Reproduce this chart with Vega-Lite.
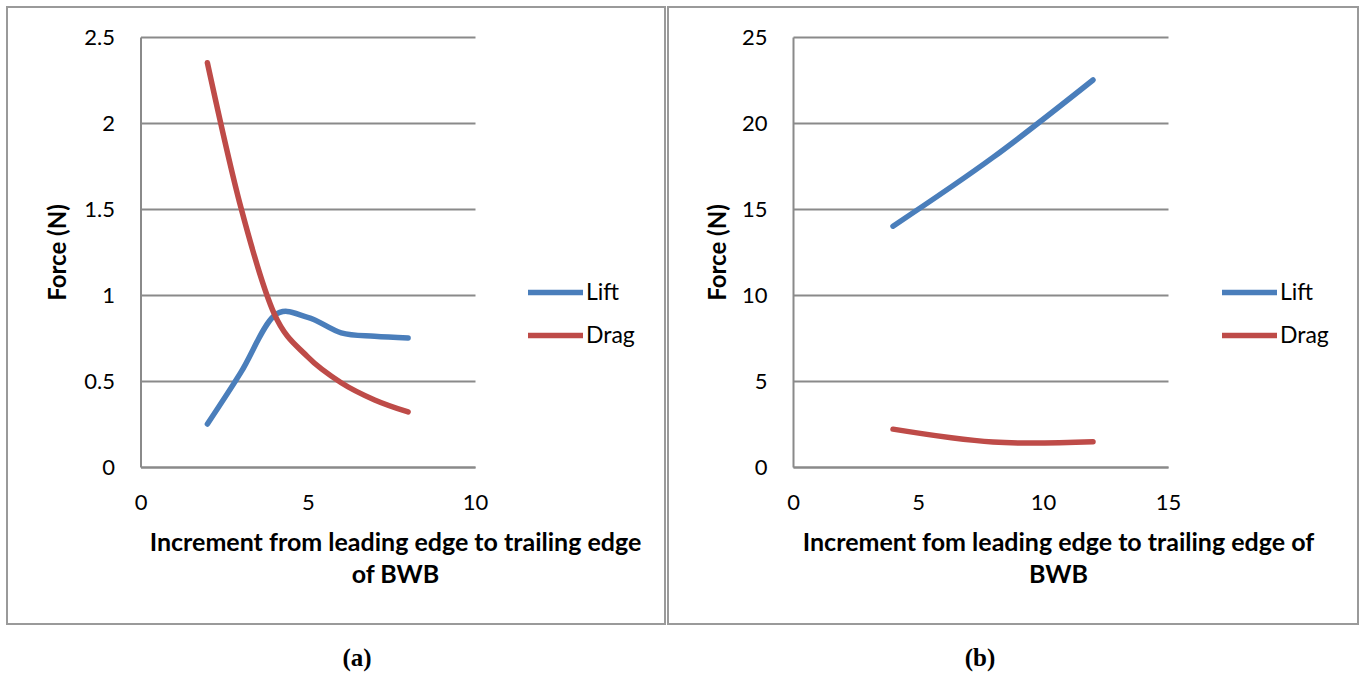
{
  "$schema": "https://vega.github.io/schema/vega-lite/v6.json",
  "padding": {"left": 6, "top": 6, "right": 0, "bottom": 0},
  "background": "white",
  "spacing": 1,
  "resolve": {"scale": {"color": "independent"}, "legend": {"color": "independent"}},
  "datasets": {
    "panelA": [
      {"increment": 2, "series": "Lift", "force": 0.25},
      {"increment": 3, "series": "Lift", "force": 0.55},
      {"increment": 4, "series": "Lift", "force": 0.88},
      {"increment": 5, "series": "Lift", "force": 0.87},
      {"increment": 6, "series": "Lift", "force": 0.78},
      {"increment": 7, "series": "Lift", "force": 0.76},
      {"increment": 8, "series": "Lift", "force": 0.75},
      {"increment": 2, "series": "Drag", "force": 2.35},
      {"increment": 3, "series": "Drag", "force": 1.51},
      {"increment": 4, "series": "Drag", "force": 0.89},
      {"increment": 5, "series": "Drag", "force": 0.64},
      {"increment": 6, "series": "Drag", "force": 0.49},
      {"increment": 7, "series": "Drag", "force": 0.39},
      {"increment": 8, "series": "Drag", "force": 0.32}
    ],
    "panelB": [
      {"increment": 4, "series": "Lift", "force": 14.0},
      {"increment": 8, "series": "Lift", "force": 18.0},
      {"increment": 12, "series": "Lift", "force": 22.5},
      {"increment": 4, "series": "Drag", "force": 2.2},
      {"increment": 8, "series": "Drag", "force": 1.45},
      {"increment": 12, "series": "Drag", "force": 1.47}
    ]
  },
  "config": {
    "view": {"stroke": "#9a9a9a", "strokeWidth": 2},
    "font": "Lato",
    "axis": {
      "domainColor": "#8a8a8a", "domainWidth": 2,
      "gridColor": "#8a8a8a", "gridWidth": 2,
      "ticks": false, "tickSize": 0, "labelFlush": false, "labelOverlap": false,
      "labelFont": "Lato", "labelFontSize": 22, "labelColor": "#000000",
      "titleFont": "Lato", "titleFontWeight": "bold", "titleFontSize": 24, "titleColor": "#000000"
    },
    "legend": {
      "orient": "none", "title": null, "symbolType": "stroke", "symbolSize": 3025,
      "symbolStrokeWidth": 5.5, "labelFont": "Lato", "labelFontSize": 23, "labelColor": "#000000",
      "labelOffset": 0, "rowPadding": -1, "padding": 0
    },
    "title": {"font": "Liberation Serif", "fontSize": 25, "fontWeight": "bold", "color": "#000000"}
  },
  "hconcat": [
    {
      "width": 658, "height": 617,
      "data": {"name": "panelA"},
      "title": {"text": "(a)", "orient": "bottom", "offset": 22, "dx": 21},
      "mark": {"type": "line", "interpolate": "cardinal", "strokeWidth": 5.5, "strokeCap": "round"},
      "encoding": {
        "x": {
          "field": "increment", "type": "quantitative",
          "scale": {"domain": [0, 10], "range": [133.5, 468], "nice": false, "zero": false},
          "axis": {"values": [0, 5, 10], "offset": -157, "labelPadding": 25, "grid": false,
            "title": ["Increment from leading edge to trailing edge", "of BWB"], "titleFontSize": 25,
            "titleX": 388, "titleY": 63, "titleLineHeight": 32, "titleAnchor": "middle", "titleAlign": "center"}
        },
        "y": {
          "field": "force", "type": "quantitative",
          "scale": {"domain": [0, 2.5], "range": [460, 30], "nice": false},
          "axis": {"values": [0, 0.5, 1, 1.5, 2, 2.5], "format": ".1~f", "offset": -133.5, "labelPadding": 26, "grid": true,
            "title": "Force (N)", "titleX": -70.5, "titleY": 245}
        },
        "color": {
          "field": "series", "type": "nominal",
          "scale": {"domain": ["Lift", "Drag"], "range": ["#4A7EBB", "#BE4B48"]},
          "legend": {"legendX": 518, "legendY": 255}
        }
      }
    },
    {
      "width": 690, "height": 617,
      "data": {"name": "panelB"},
      "title": {"text": "(b)", "orient": "bottom", "offset": 22, "dx": -33},
      "mark": {"type": "line", "interpolate": "cardinal", "strokeWidth": 5.5, "strokeCap": "round"},
      "encoding": {
        "x": {
          "field": "increment", "type": "quantitative",
          "scale": {"domain": [0, 15], "range": [125, 500], "nice": false, "zero": false},
          "axis": {"values": [0, 5, 10, 15], "offset": -157, "labelPadding": 25, "grid": false,
            "title": ["Increment fom leading edge to trailing edge of", "BWB"], "titleFontSize": 25,
            "titleX": 390, "titleY": 63, "titleLineHeight": 32, "titleAnchor": "middle", "titleAlign": "center"}
        },
        "y": {
          "field": "force", "type": "quantitative",
          "scale": {"domain": [0, 25], "range": [460, 30], "nice": false},
          "axis": {"values": [0, 5, 10, 15, 20, 25], "offset": -125, "labelPadding": 26, "grid": true,
            "title": "Force (N)", "titleX": -63, "titleY": 245}
        },
        "color": {
          "field": "series", "type": "nominal",
          "scale": {"domain": ["Lift", "Drag"], "range": ["#4A7EBB", "#BE4B48"]},
          "legend": {"legendX": 551, "legendY": 255}
        }
      }
    }
  ]
}
